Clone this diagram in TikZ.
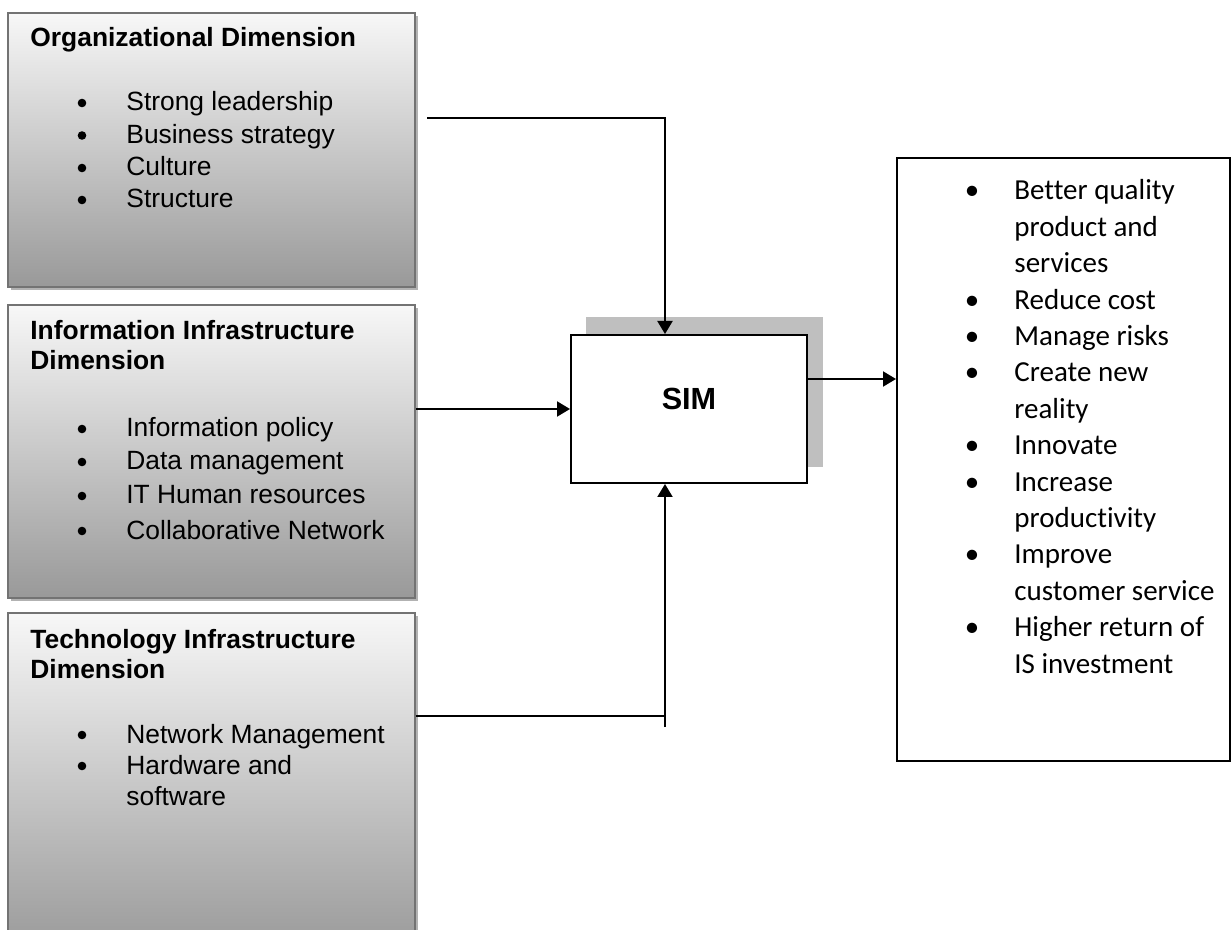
\documentclass[tikz,border=0pt]{standalone}
\usepackage{fontspec}
\setmainfont{Liberation Sans}
\newfontfamily\calibfont[Ligatures=NoCommon]{Carlito}
\usetikzlibrary{arrows.meta,shadows,positioning}

\begin{document}
\begin{tikzpicture}[x=0.5pt,y=-0.5pt,
    dimbox/.style={draw=black!55, line width=0.8pt, top color=white!97!black, bottom color=black!40,
      minimum width=203.5pt, drop shadow={shadow xshift=1.5pt, shadow yshift=-1.5pt, fill=black!30, opacity=1}},
    head/.style={anchor=base west, inner sep=0, font=\fontsize{13.2}{15}\selectfont\bfseries},
    item/.style={anchor=base west, inner sep=0, font=\fontsize{13.2}{15}\selectfont},
    dot/.style={circle, fill, inner sep=0, minimum size=4.3pt, yshift=4pt},
    outitem/.style={anchor=base west, inner sep=0, font=\fontsize{14.5}{17}\calibfont},
    outdot/.style={anchor=base, inner sep=0, font=\fontsize{14.5}{17}\calibfont},
    wire/.style={line width=1pt},
    link/.style={line width=1pt, -{Triangle[length=6.5pt,width=7.5pt]}}]
    \useasboundingbox (0,0) rectangle (1232,930);
    \clip (0,0) rectangle (1232,930);
    % dimension boxes
    \node[dimbox, minimum height=137pt] (org) at (211.5,150) {};
    \node[dimbox, minimum height=146.5pt] (info) at (211.5,451.5) {};
    \node[dimbox, minimum height=170pt] (tech) at (211.5,783) {};
    % organizational
    \node[head] (org-h) at (30,47) {Organizational Dimension};
    \foreach \y/\t [count=\i] in {111/Strong leadership, 143.5/Business strategy, 176/Culture, 208/Structure}{
        \node[dot] (org-d\i) at (82,\y) {};
        \node[item] (org-\i) at (126,\y) {\t};
    }
    % information
    \node[head] (info-h1) at (30,340) {Information Infrastructure};
    \node[head] (info-h2) at (30,370) {Dimension};
    \foreach \y/\t [count=\i] in {437/Information policy, 470/Data management, 504/IT Human resources, 539/Collaborative Network}{
        \node[dot] (info-d\i) at (82,\y) {};
        \node[item] (info-\i) at (126,\y) {\t};
    }
    % technology
    \node[head] (tech-h1) at (30,648) {Technology Infrastructure};
    \node[head] (tech-h2) at (30,678) {Dimension};
    \node[dot] (tech-d1) at (82,743) {};
    \node[item] (tech-1) at (126,743) {Network Management};
    \node[dot] (tech-d2) at (82,774) {};
    \node[item] (tech-2) at (126,774) {Hardware and};
    \node[item] (tech-3) at (126,805) {software};
    % SIM
    \fill[black!25] (586,317) rectangle (823,467);
    \node[draw, fill=white, line width=1pt, minimum width=118pt, minimum height=74pt] (sim) at (689,409) {};
    \node[anchor=base, inner sep=0, font=\fontsize{15.3}{18}\selectfont\bfseries] (sim-t) at (689,410) {SIM};
    % outcomes
    \node[draw, line width=1pt, minimum width=166.5pt, minimum height=301.5pt] (out) at (1063.5,459.5) {};
    \foreach \i/\t/\b in {0/Better quality/1, 1/product and/0, 2/services/0, 3/Reduce cost/1,
        4/Manage risks/1, 5/Create new/1, 6/reality/0, 7/Innovate/1, 8/Increase/1, 9/productivity/0,
        10/Improve/1, 11/customer service/0, 12/Higher return of/1, 13/IS investment/0}{
        \pgfmathsetmacro{\y}{200+36.4*\i}
        \ifnum\b=1 \node[outdot] (out-d\i) at (972,\y) {•}; \fi
        \node[outitem] (out-\i) at (1014,\y) {\t};
    }
    % arrows
    \coordinate (org-out) at (427,118);
    \coordinate (tech-join) at (665,716);
    \coordinate (tech-tail) at (665,727);
    \path[draw, link] (org-out) -| ([xshift=-12pt]sim.north);
    \path[draw, link] (sim.west -| info.east) -- (sim.west);
    \path[draw, wire] (tech.east |- tech-join) -- (tech-join);
    \path[draw, link] (tech-tail) -- ([xshift=-12pt]sim.south);
    \path[draw, link] ([yshift=15pt]sim.east) -- ([yshift=15pt]sim.east -| out.west);
\end{tikzpicture}
\end{document}
